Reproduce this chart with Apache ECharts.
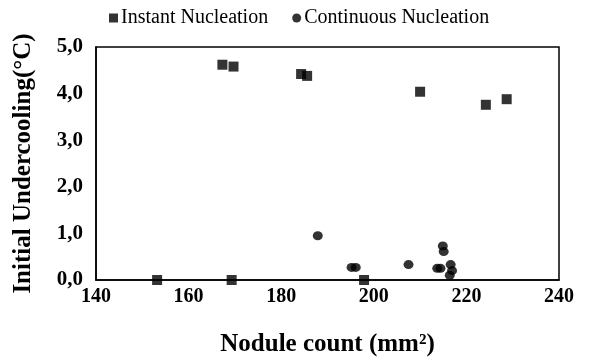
<!DOCTYPE html>
<html><head><meta charset="utf-8">
<script src="https://cdn.jsdelivr.net/npm/echarts@6/dist/echarts.min.js"></script>
<style>html,body{margin:0;padding:0;background:#fff}#c{width:610px;height:362px}</style>
</head><body><div id="c"></div>
<script>
const instantX = [167.3, 169.7, 184.3, 185.6, 210.0, 224.2, 228.7, 153.2, 169.3, 197.9];
const instantY = [4.62, 4.58, 4.42, 4.38, 4.04, 3.76, 3.88, 0.0, 0.0, 0.0];
const contX = [187.9, 195.2, 196.1, 207.5, 213.7, 214.4, 214.9, 215.1, 216.6, 216.9, 216.4];
const contY = [0.95, 0.27, 0.27, 0.33, 0.25, 0.25, 0.73, 0.61, 0.33, 0.20, 0.10];
const seriesNames = ['Instant Nucleation', 'Continuous Nucleation'];
const xTicks = [140, 160, 180, 200, 220, 240];
const yTicks = [0, 1, 2, 3, 4, 5];

const chart = echarts.init(document.getElementById('c'));
const font = 'Liberation Serif';
chart.setOption({
  animation: false,
  legend: {
    top: 3, left: 104, itemGap: 24, itemWidth: 9, itemHeight: 9,
    textStyle: {fontFamily: font, fontSize: 20, color: '#000', padding: [0, 0, 0, -2]},
    data: [{name: seriesNames[0], icon: 'rect'}, {name: seriesNames[1], icon: 'circle'}]
  },
  grid: {left: 96, right: 51, top: 47, bottom: 81, show: true, borderColor: '#000', borderWidth: 1.5, backgroundColor: '#fff'},
  xAxis: {
    type: 'value', min: xTicks[0], max: xTicks[xTicks.length-1], interval: 20,
    name: 'Nodule count (mm²)', nameLocation: 'middle', nameGap: 52,
    nameTextStyle: {fontFamily: font, fontSize: 25, fontWeight: 'bold', color: '#000'},
    axisLine: {lineStyle: {color: '#000', width: 1.5}}, axisTick: {show: false},
    axisLabel: {fontFamily: font, fontSize: 20, fontWeight: 'bold', color: '#000', margin: 7},
    splitLine: {show: false}
  },
  yAxis: {
    type: 'value', min: yTicks[0], max: yTicks[yTicks.length-1], interval: 1,
    name: 'Initial Undercooling(°C)', nameLocation: 'middle', nameGap: 60,
    nameTextStyle: {fontFamily: font, fontSize: 25, fontWeight: 'bold', color: '#000'},
    axisLine: {lineStyle: {color: '#000', width: 1.5}}, axisTick: {show: false},
    axisLabel: {fontFamily: font, fontSize: 21, fontWeight: 'bold', color: '#000', margin: 13,
      formatter: v => v.toFixed(1).replace('.', ',')},
    splitLine: {show: false}
  },
  series: [
    {name: seriesNames[0], type: 'scatter', symbol: 'rect', symbolSize: 10,
     itemStyle: {color: '#000'}, data: instantX.map((x, i) => [x, instantY[i]])},
    {name: seriesNames[1], type: 'scatter', symbol: 'circle', symbolSize: [10, 9],
     itemStyle: {color: '#000'}, data: contX.map((x, i) => [x, contY[i]])}
  ]
});
</script></body></html>
